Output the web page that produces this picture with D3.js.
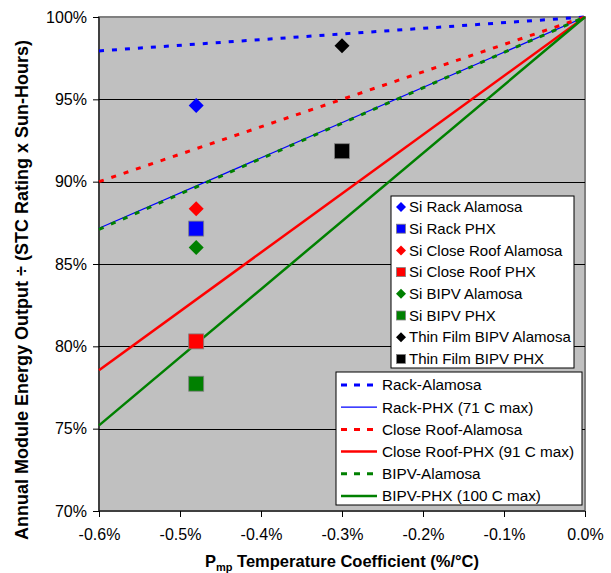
<!DOCTYPE html>
<html>
<head>
    <meta charset="utf-8">
    <script src="https://cdnjs.cloudflare.com/ajax/libs/d3/7.8.5/d3.min.js"></script>
    <style>
        body {
            margin: 0;
            background: #ffffff;
            font-family: Arial, "Liberation Sans", sans-serif;
        }
        .axis text {
            font-family: Arial, "Liberation Sans", sans-serif;
            font-size: 16px;
            fill: #000;
        }
        .axis path, .axis line {
            stroke: #000;
        }
    </style>
</head>
<body>
    <div id="chart"></div>

    <script>
        // x axis: Pmp temperature coefficient (%/°C)
        const xTicks = [-0.6, -0.5, -0.4, -0.3, -0.2, -0.1, 0.0];
        const yTicks = [70, 75, 80, 85, 90, 95, 100];

        // modelled lines, values at -0.6% and 0.0%
        const lineNames = ["Rack-Alamosa", "Rack-PHX (71 C max)", "Close Roof-Alamosa",
            "Close Roof-PHX (91 C max)", "BIPV-Alamosa", "BIPV-PHX (100 C max)"];
        const lineX = [-0.6, 0.0];
        const lineValues = [
            [97.94, 100],
            [87.17, 100],
            [90.0, 100],
            [78.55, 100],
            [87.1, 100],
            [75.2, 100]
        ];

        // measured modules
        const pointNames = ["Si Rack Alamosa", "Si Rack PHX", "Si Close Roof Alamosa", "Si Close Roof PHX",
            "Si BIPV Alamosa", "Si BIPV PHX", "Thin Film BIPV Alamosa", "Thin Film BIPV PHX"];
        const pointX = [-0.48, -0.48, -0.48, -0.48, -0.48, -0.48, -0.3, -0.3];
        const pointY = [94.62, 87.15, 88.35, 80.3, 86.0, 77.73, 98.25, 91.85];

        const lineStyles = [
            { color: "#0000ff", width: 3, dash: "5,8" },
            { color: "#0000ff", width: 1.3, dash: null },
            { color: "#ff0000", width: 3, dash: "5,8" },
            { color: "#ff0000", width: 2.5, dash: null },
            { color: "#008000", width: 3, dash: "5,8" },
            { color: "#008000", width: 2.5, dash: null }
        ];
        const pointStyles = [
            { color: "#0000ff", shape: "diamond" },
            { color: "#0000ff", shape: "square" },
            { color: "#ff0000", shape: "diamond" },
            { color: "#ff0000", shape: "square" },
            { color: "#008000", shape: "diamond" },
            { color: "#008000", shape: "square" },
            { color: "#000000", shape: "diamond" },
            { color: "#000000", shape: "square" }
        ];

        const W = 611, H = 573;
        const margin = { top: 17, right: 26, bottom: 62, left: 99 };
        const width = W - margin.left - margin.right;
        const height = H - margin.top - margin.bottom;

        const svg = d3.select("#chart").append("svg")
            .attr("width", W)
            .attr("height", H);

        const g = svg.append("g")
            .attr("transform", `translate(${margin.left},${margin.top})`);

        const x = d3.scaleLinear().domain([-0.6, 0]).range([0, width]);
        const y = d3.scaleLinear().domain([70, 100]).range([height, 0]);

        // plot area
        g.append("rect")
            .attr("width", width)
            .attr("height", height)
            .attr("fill", "#c0c0c0")
            .attr("stroke", "#808080")
            .attr("stroke-width", 2);

        // gridlines
        g.append("g")
            .selectAll("line")
            .data(yTicks.filter(d => d > 70 && d < 100))
            .join("line")
            .attr("x1", 0)
            .attr("x2", width)
            .attr("y1", d => Math.round(y(d)) + 0.5)
            .attr("y2", d => Math.round(y(d)) + 0.5)
            .attr("stroke", "#000")
            .attr("stroke-width", 1);

        // axes
        g.append("g")
            .attr("class", "axis")
            .attr("transform", `translate(0,${height})`)
            .call(d3.axisBottom(x)
                .tickValues(xTicks)
                .tickSize(6)
                .tickPadding(12)
                .tickFormat(d => d.toFixed(1) + "%"))
            .call(a => a.select(".domain").attr("d", `M0,0H${width}`));

        g.append("g")
            .attr("class", "axis")
            .call(d3.axisLeft(y)
                .tickValues(yTicks)
                .tickSize(6)
                .tickPadding(6)
                .tickFormat(d => d + "%"))
            .call(a => a.select(".domain").attr("d", `M0,0V${height}`));

        // lines
        const lineGen = d3.line()
            .x(d => x(d[0]))
            .y(d => y(d[1]));

        lineValues.forEach((vals, i) => {
            const s = lineStyles[i];
            g.append("path")
                .datum(lineX.map((xv, j) => [xv, vals[j]]))
                .attr("d", lineGen)
                .attr("fill", "none")
                .attr("stroke", s.color)
                .attr("stroke-width", s.width)
                .attr("stroke-dasharray", s.dash);
        });

        // markers
        function marker(sel, shape, size) {
            if (shape === "diamond") {
                sel.append("path")
                    .attr("d", `M0,${-size / 2}L${size / 2},0L0,${size / 2}L${-size / 2},0Z`);
            } else {
                sel.append("rect")
                    .attr("x", -size / 2)
                    .attr("y", -size / 2)
                    .attr("width", size)
                    .attr("height", size)
                    .attr("stroke", "#808080")
                    .attr("stroke-width", 0.8);
            }
        }

        pointNames.forEach((name, i) => {
            const s = pointStyles[i];
            const m = g.append("g")
                .attr("transform", `translate(${x(pointX[i])},${y(pointY[i])})`)
                .attr("fill", s.color);
            marker(m, s.shape, 15);
        });

        // legend for markers
        const leg1 = svg.append("g")
            .attr("transform", "translate(391,196)");
        leg1.append("rect")
            .attr("width", 183)
            .attr("height", 172)
            .attr("fill", "#fff")
            .attr("stroke", "#000")
            .attr("stroke-width", 1);
        pointNames.forEach((name, i) => {
            const row = leg1.append("g")
                .attr("transform", `translate(0,${11 + i * 21.7})`);
            const m = row.append("g")
                .attr("transform", "translate(10,0)")
                .attr("fill", pointStyles[i].color);
            marker(m, pointStyles[i].shape, pointStyles[i].shape === "diamond" ? 10 : 9);
            row.append("text")
                .attr("x", 18)
                .attr("dy", "0.35em")
                .style("font-size", "15px")
                .text(name);
        });

        // legend for lines
        const leg2 = svg.append("g")
            .attr("transform", "translate(336,372)");
        leg2.append("rect")
            .attr("width", 246)
            .attr("height", 133)
            .attr("fill", "#fff")
            .attr("stroke", "#000")
            .attr("stroke-width", 1);
        lineNames.forEach((name, i) => {
            const s = lineStyles[i];
            const row = leg2.append("g")
                .attr("transform", `translate(0,${13 + i * 22.2})`);
            row.append("line")
                .attr("x1", 5)
                .attr("x2", 41)
                .attr("stroke", s.color)
                .attr("stroke-width", s.width)
                .attr("stroke-dasharray", s.dash ? "6,7" : null);
            row.append("text")
                .attr("x", 46)
                .attr("dy", "0.35em")
                .style("font-size", "15.3px")
                .text(name);
        });

        // axis titles
        const xt = svg.append("text")
            .attr("x", margin.left + width / 2)
            .attr("y", 567)
            .attr("text-anchor", "middle")
            .style("font-size", "16.5px")
            .style("font-weight", "bold");
        xt.append("tspan").text("P");
        xt.append("tspan").attr("dy", 4).style("font-size", "11px").text("mp");
        xt.append("tspan").attr("dy", -4).text(" Temperature Coefficient (%/°C)");

        svg.append("text")
            .attr("transform", `translate(28,290) rotate(-90)`)
            .attr("text-anchor", "middle")
            .style("font-size", "18px")
            .style("font-weight", "bold")
            .text("Annual Module Energy Output ÷ (STC Rating x Sun-Hours)");
    </script>
</body>
</html>
